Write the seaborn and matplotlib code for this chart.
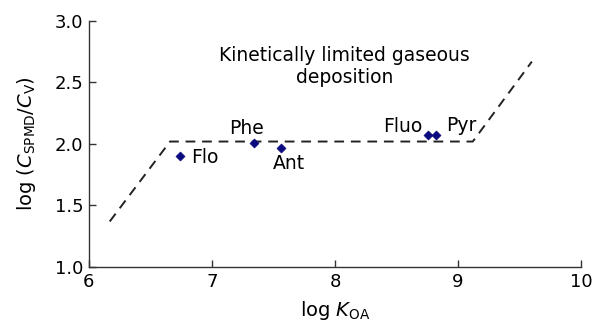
import matplotlib
matplotlib.use("Agg")
import matplotlib.pyplot as plt
import seaborn as sns
import pandas as pd

# Data
compounds = ["Flo", "Phe", "Ant", "Fluo", "Pyr"]
log_koa = [6.74, 7.34, 7.56, 8.76, 8.82]
log_ratio = [1.90, 2.01, 1.97, 2.07, 2.07]

# Dashed model line (breakpoints)
line_x = [6.17, 6.66, 9.12, 9.60]
line_y = [1.37, 2.02, 2.02, 2.67]

sns.set_style("ticks")
plt.rcParams['font.family'] = ['DejaVu Sans']
plt.rcParams['mathtext.fontset'] = 'dejavusans'
plt.rcParams['text.color'] = 'black'
plt.rcParams['axes.labelcolor'] = 'black'
plt.rcParams['xtick.color'] = 'black'
plt.rcParams['ytick.color'] = 'black'

fig = plt.figure(figsize=(5.96, 3.28), dpi=100)
ax = fig.add_axes([0.149, 0.186, 0.826, 0.750])

df_line = pd.DataFrame({"x": line_x, "y": line_y})
sns.lineplot(data=df_line, x="x", y="y", sort=False, ax=ax, color="#222222",
             linewidth=1.4, linestyle=(0, (5, 3.5)))

df_pts = pd.DataFrame({"compound": compounds, "koa": log_koa, "ratio": log_ratio})
sns.scatterplot(data=df_pts, x="koa", y="ratio", ax=ax, marker="D", s=22,
                color="#0a0a80", edgecolor="#0a0a80", zorder=3)

label_pos = {
    "Flo": (6.94, 1.89),
    "Phe": (7.28, 2.13),
    "Ant": (7.63, 1.84),
    "Fluo": (8.55, 2.14),
    "Pyr": (9.03, 2.15),
}
for name in compounds:
    lx, ly = label_pos[name]
    ax.text(lx, ly, name, ha="center", va="center", fontsize=13.5)

ax.text(8.08, 2.63, "Kinetically limited gaseous\ndeposition", ha="center",
        va="center", fontsize=13.5, linespacing=1.15)

ax.set_xlim(6, 10)
ax.set_ylim(1.0, 3.0)
ax.set_xticks([6, 7, 8, 9, 10])
ax.set_yticks([1.0, 1.5, 2.0, 2.5, 3.0])
ax.set_yticklabels(["1.0", "1.5", "2.0", "2.5", "3.0"])
ax.tick_params(labelsize=13, length=5, width=1, color="#333333", pad=4,
               direction="in")
ax.set_xlabel(r"log $\mathit{K}_{\mathrm{OA}}$", fontsize=14, labelpad=6)
ax.set_ylabel(r"log ($\mathit{C}_{\mathrm{SPMD}}/\mathit{C}_{\mathrm{V}}$)", fontsize=14, labelpad=12)
for s in ["top", "right"]:
    ax.spines[s].set_visible(False)
for s in ["left", "bottom"]:
    ax.spines[s].set_color("#333333")
    ax.spines[s].set_linewidth(1)

fig.savefig("out.png", dpi=100)
